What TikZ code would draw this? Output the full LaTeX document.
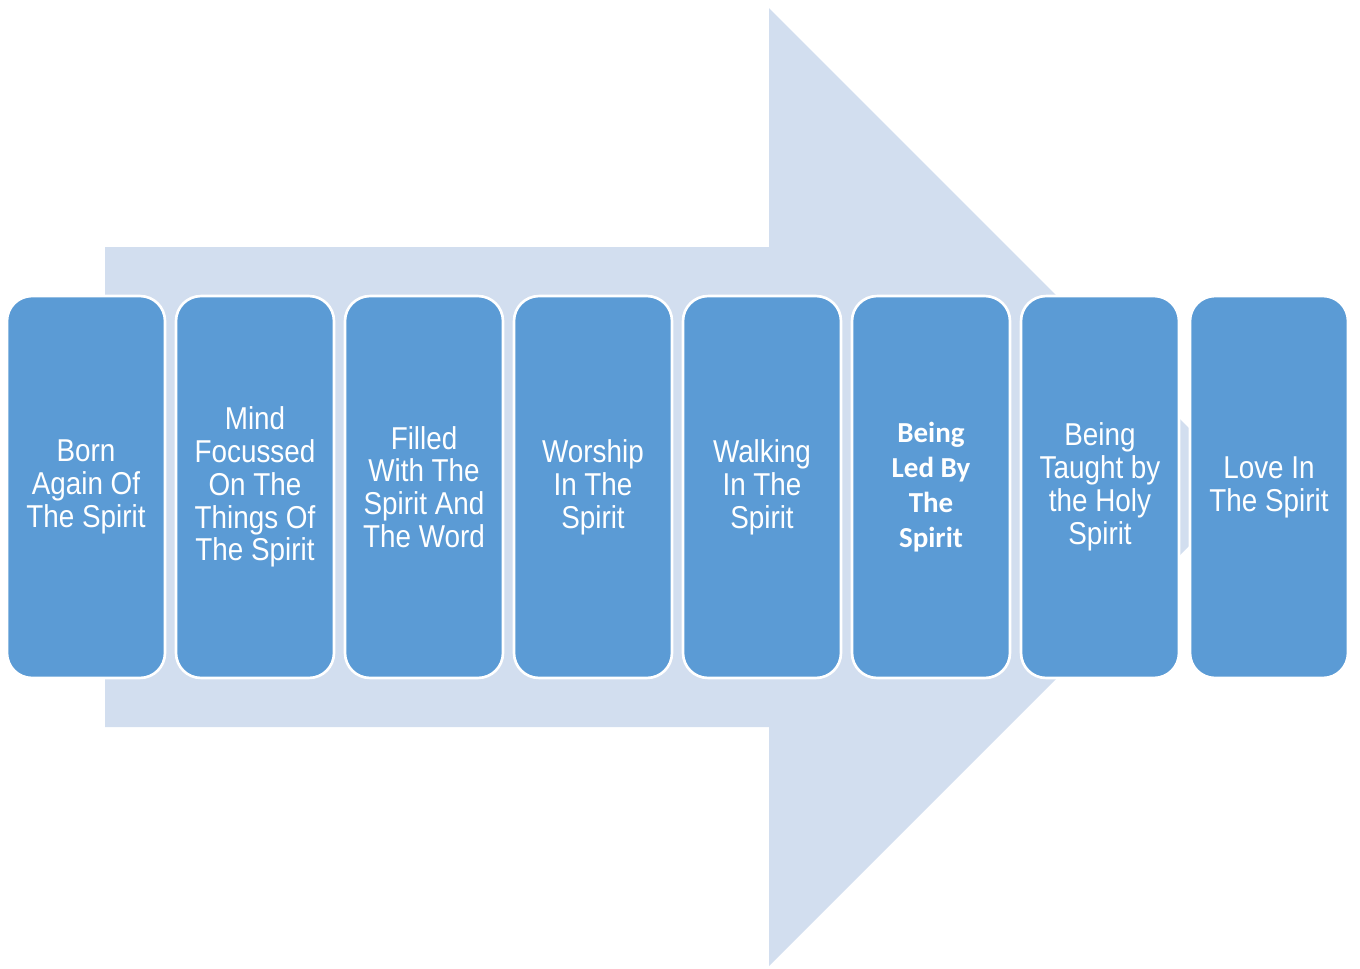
\documentclass[tikz,border=0pt]{standalone}
\usepackage{fontspec}
\setmainfont{Liberation Sans}
\newfontfamily\stepfont[FakeStretch=0.88]{Liberation Sans}
\newfontfamily\ledfont{Carlito}
\usepackage{xcolor}
\usepackage{tikz}

\definecolor{boxblue}{HTML}{5B9BD5}
\definecolor{arrowblue}{HTML}{D2DEEF}

\tikzset{
    stepbox/.style={draw=white, line width=1.5pt, fill=boxblue, rounded corners=0.5cm,
        minimum width=3.16cm, minimum height=7.64cm, align=center, text=white, inner sep=0pt},
    regtext/.style={font=\stepfont\fontsize{18}{18.7}\selectfont},
    boldtext/.style={font=\ledfont\bfseries\fontsize{16.5}{20}\selectfont}
}

\begin{document}
\begin{tikzpicture}[x=0.02cm, y=-0.02cm]
        \useasboundingbox (0,0) rectangle (1360,968);

        %=== Freccia ===
        \fill[arrowblue] (105,247) -- (769,247) -- (769,8) -- (1248,487)
            -- (769,966) -- (769,727) -- (105,727) -- cycle;

        %=== Passi ===
        \foreach \i/\sty/\txt in {0/regtext/{Born\\Again Of\\The Spirit},
                1/regtext/{Mind\\Focussed\\On The\\Things Of\\The Spirit},
                2/regtext/{Filled\\With The\\Spirit And\\The Word},
                3/regtext/{Worship\\In The\\Spirit},
                4/regtext/{Walking\\In The\\Spirit},
                5/boldtext/{Being\\Led By\\The\\Spirit},
                6/regtext/{Being\\Taught by\\the Holy\\Spirit},
                7/regtext/{Love In\\The Spirit}}
            \node[stepbox, \sty] (s\i) at (86+169*\i,487) {\txt};
    \end{tikzpicture}
\end{document}
